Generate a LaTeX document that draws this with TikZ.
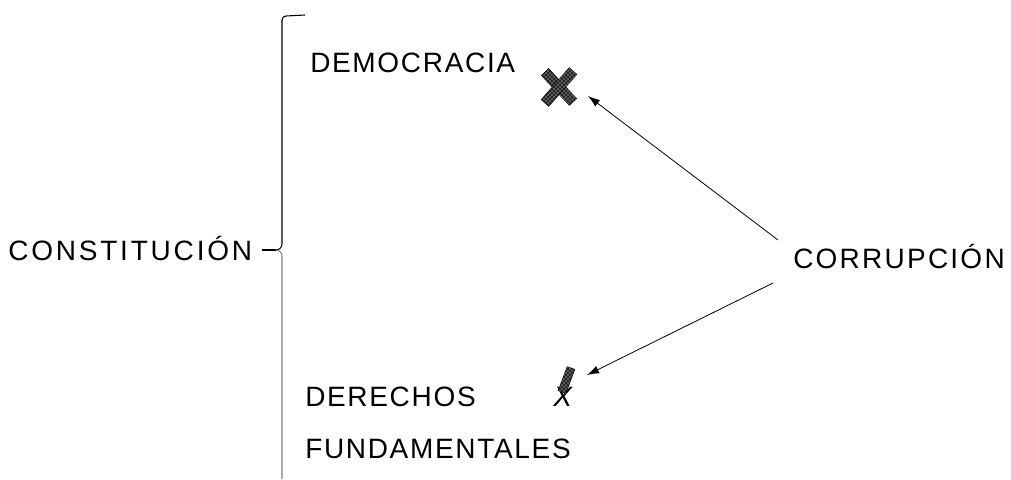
\documentclass[tikz,border=0pt]{standalone}
\usepackage{fontspec}
\setmainfont{Liberation Sans}[LetterSpace=6]
\usetikzlibrary{arrows.meta,patterns}

\tikzset{
  word/.style={anchor=base west,inner sep=0pt,font=\fontsize{21}{25}\selectfont},
  hit/.style={-{Latex[length=9pt,width=6pt]},line width=0.6pt},
  stain/.style={fill=black!85,postaction={pattern=crosshatch dots,pattern color=white},draw=black,thin}
}

\begin{document}
\begin{tikzpicture}[x=0.75pt,y=-0.75pt]
      \useasboundingbox (0,0) rectangle (1011,479);

      \node[word] (constitucion) at (8,260) {\addfontfeature{LetterSpace=10}CONSTITUCIÓN};
      \node[word] (democracia) at (310,72) {DEMOCRACIA};
      \node[word] (derechos) at (305,406) {DERECHOS};
      \node[word] (fundamentales) at (305,458) {FUNDAMENTALES};
      \node[word] (corrupcion) at (793,268) {\addfontfeature{LetterSpace=8}CORRUPCIÓN};

      % the brace
      \coordinate (tip) at (276,250);
      \draw[line width=0.8pt] (262,250) -- (tip);
      \draw[line width=0.8pt] (305,15) -- (286,16) to[out=180,in=90] (282,20) -- (282,244)
            to[out=-90,in=0] (tip);
      \draw[black!50,line width=0.8pt] (tip) to[out=0,in=90] (282,256) -- (282,479);

      % marks
      \path[stain] (541.4,75.4) -- (569.4,105.4) -- (576.6,98.6) -- (548.6,68.6) -- cycle;
      \path[stain] (576.8,74.3) -- (548.8,106.3) -- (541.2,99.7) -- (569.2,67.7) -- cycle;
      \node[word,font=\fontsize{21}{25}\selectfont\itshape] (xmark) at (553,406) {X};
      \path[stain] (574.8,369.4) -- (565.8,393.4) -- (558.2,390.6) -- (567.2,366.6) -- cycle;

      \coordinate (top) at (778,240);
      \coordinate (bottom) at (773,283);
      \coordinate (xdem) at (588,96);
      \coordinate (xder) at (587,375);
      \draw[hit] (top) -- (xdem);
      \draw[hit] (bottom) -- (xder);
    \end{tikzpicture}
\end{document}
